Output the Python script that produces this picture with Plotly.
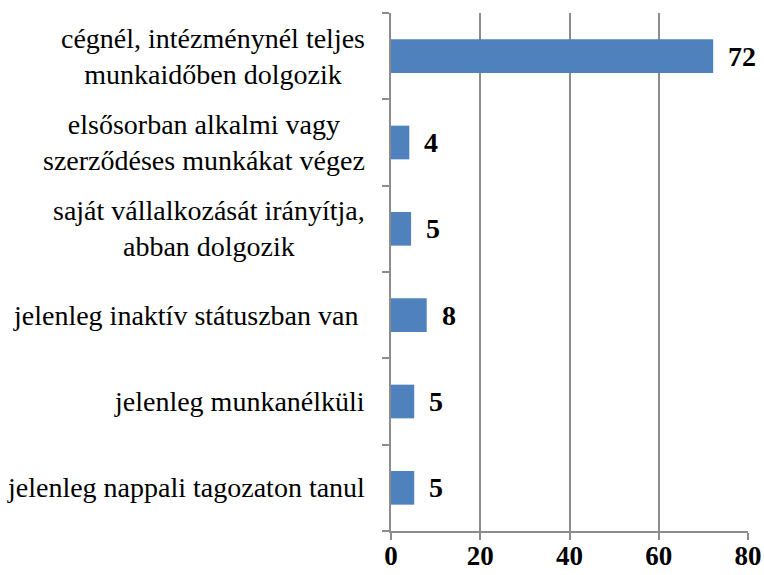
import plotly.graph_objects as go

categories = [
    "cégnél, intézménynél teljes<br>munkaidőben dolgozik",
    "elsősorban alkalmi vagy<br>szerződéses munkákat végez",
    "saját vállalkozását irányítja,<br>abban dolgozik",
    "jelenleg inaktív státuszban van ",
    "jelenleg munkanélküli",
    "jelenleg nappali tagozaton tanul",
]
values = [72.2, 4.1, 4.5, 8.0, 5.2, 5.2]
value_labels = ["72", "4", "5", "8", "5", "5"]
x_ticks = [0, 20, 40, 60, 80]

FONT = "'Liberation Serif', 'Times New Roman', serif"
GRID = "#8c8c8c"

fig = go.Figure(go.Bar(
    y=list(range(len(categories))),
    x=values,
    orientation="h",
    width=0.39,
    marker=dict(color="#4F81BD", line=dict(width=0)),
    hoverinfo="skip",
))

annotations = []
for i, (cat, v, lab) in enumerate(zip(categories, values, value_labels)):
    annotations.append(dict(
        xref="paper", yref="y", x=0, y=i, text=cat, showarrow=False,
        xanchor="right", yanchor="middle", align="center", xshift=-24,
        font=dict(family=FONT, size=28, color="#000000"),
    ))
    annotations.append(dict(
        xref="x", yref="y", x=v, y=i, text=lab, showarrow=False,
        xanchor="left", yanchor="middle", xshift=13,
        font=dict(family=FONT, size=28, color="#000000", weight="bold"),
    ))

fig.update_layout(
    template="none",
    width=764, height=575,
    margin=dict(l=391, r=16, t=13, b=44, autoexpand=False),
    paper_bgcolor="white", plot_bgcolor="white",
    font=dict(family=FONT, color="#000000"),
    showlegend=False,
    annotations=annotations,
    xaxis=dict(
        range=[0, 80], tickvals=x_ticks, ticktext=[str(t) for t in x_ticks],
        showgrid=True, gridcolor=GRID, gridwidth=2,
        showline=True, linecolor=GRID, linewidth=2,
        ticks="outside", ticklen=7, tickcolor=GRID, tickwidth=2,
        ticklabelstandoff=-7,
        tickfont=dict(family=FONT, size=27, color="#000000", weight="bold"),
        zeroline=False, fixedrange=True, automargin=False,
    ),
    yaxis=dict(
        type="category", autorange="reversed",
        tickvals=list(range(len(categories))),
        showticklabels=False, showgrid=False,
        showline=True, linecolor=GRID, linewidth=2,
        ticks="outside", ticklen=7, tickcolor=GRID, tickwidth=2,
        tickson="boundaries", zeroline=False, fixedrange=True, automargin=False,
    ),
)

fig.write_html(
    "out.html",
    config={"displayModeBar": False, "staticPlot": True},
    post_script=(
        "document.body.style.margin='0';"
        "document.body.style.padding='0';"
        "document.documentElement.style.overflow='hidden';"
    ),
)
